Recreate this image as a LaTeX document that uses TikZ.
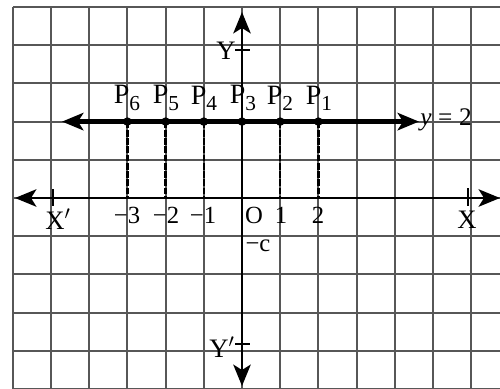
\documentclass[tikz,border=0pt]{standalone}
\usepackage{fontspec}
\setmainfont{Liberation Serif}
\usetikzlibrary{arrows.meta}
\begin{document}
\begin{tikzpicture}[x=0.75pt,y=-0.75pt,
  gridline/.style={draw=black!66,line width=1.6pt},
  tip/.tip={Stealth[length=16pt,width=13pt,inset=4pt]},
  axisline/.style={draw=black,line width=2.2pt,tip-tip},
  linetwo/.style={draw=black,line width=3.6pt,tip-tip},
  dropline/.style={draw=black,line width=1.7pt,dash pattern=on 5pt off 1.2pt},
  tickmark/.style={draw=black,line width=1.5pt},
  axlab/.style={inner sep=0pt,font=\fontsize{20}{20}\selectfont},
  numlab/.style={inner sep=0pt,font=\fontsize{18.5}{18.5}\selectfont},
  plab/.style={inner sep=0pt,anchor=south,font=\fontsize{21}{21}\selectfont},
  dot/.style={fill=black}
]
\useasboundingbox (0,0) rectangle (500,389);
\fill[white] (0,0) rectangle (500,389);
% grid
\foreach \i in {0,...,12}
  \draw[gridline] ({12.8+38.2*\i},7) -- ({12.8+38.2*\i},389);
\foreach \j in {0,...,10}
  \draw[gridline] (12.8,{7+38.2*\j}) -- (500,{7+38.2*\j});
% axis ends
\coordinate (xl) at (15,198);
\coordinate (xr) at (500,198);
\coordinate (yt) at (242,12);
\coordinate (yb) at (242,386);
% points on y = 2
\coordinate (P1) at (318.4,121.6);
\coordinate (P2) at (280.2,121.6);
\coordinate (P3) at (242,121.6);
\coordinate (P4) at (203.8,121.6);
\coordinate (P5) at (165.6,121.6);
\coordinate (P6) at (127.4,121.6);
\coordinate (F1) at (318.4,198);
\coordinate (F2) at (280.2,198);
\coordinate (F4) at (203.8,198);
\coordinate (F5) at (165.6,198);
\coordinate (F6) at (127.4,198);
\coordinate (Ll) at (62,121.6);
\coordinate (Lr) at (419,121.6);
% drop lines
\foreach \k in {1,2,4,5,6}
  \draw[dropline] (P\k) -- (F\k);
% axes
\draw[axisline] (xl) -- (xr);
\draw[axisline] (yb) -- (yt);
% line y = 2
\draw[linetwo] (Ll) -- (Lr);
\foreach \k in {1,...,6}
  \fill[dot] (P\k) circle[radius=3.2pt];
% ticks
\coordinate (tYa) at (235,50);   \coordinate (tYb) at (250,50);
\coordinate (tYpa) at (235,344); \coordinate (tYpb) at (250,344);
\coordinate (tXpa) at (53,189);  \coordinate (tXpb) at (53,206);
\coordinate (tXa) at (468,188);  \coordinate (tXb) at (468,206);
\draw[tickmark] (tYa) -- (tYb);
\draw[tickmark] (tYpa) -- (tYpb);
\draw[tickmark] (tXpa) -- (tXpb);
\draw[tickmark] (tXa) -- (tXb);
% axis labels
\node[axlab] (Ylab) at (226,51) {Y};
\node[axlab] (Yplab) at (222,347) {Y$'$};
\node[axlab] (Xplab) at (58,219) {X$'$};
\node[axlab] (Xlab) at (467,220) {X};
% numbers
\node[numlab] (nm3) at (127,215) {−3};
\node[numlab] (nm2) at (166,215) {−2};
\node[numlab] (nm1) at (203,215) {−1};
\node[numlab] (nO) at (254,215) {O};
\node[numlab] (n1) at (281,215) {1};
\node[numlab] (n2) at (318,215) {2};
\node[numlab] (nc) at (258,246) {−c};
% point labels
\node[plab] (lP1) at (319,111) {P\raisebox{-5pt}{\fontsize{16}{16}\selectfont 1}};
\node[plab] (lP2) at (280,111) {P\raisebox{-5pt}{\fontsize{16}{16}\selectfont 2}};
\node[plab] (lP3) at (243,111) {P\raisebox{-5pt}{\fontsize{16}{16}\selectfont 3}};
\node[plab] (lP4) at (204,111) {P\raisebox{-5pt}{\fontsize{16}{16}\selectfont 4}};
\node[plab] (lP5) at (166,111) {P\raisebox{-5pt}{\fontsize{16}{16}\selectfont 5}};
\node[plab] (lP6) at (127,111) {P\raisebox{-5pt}{\fontsize{16}{16}\selectfont 6}};
% equation label
\node[anchor=west,inner sep=0pt,font=\fontsize{19}{19}\selectfont] (eq) at (420,120) {\textit{y}\hspace{5pt}=\hspace{5pt}2};
\end{tikzpicture}
\end{document}
